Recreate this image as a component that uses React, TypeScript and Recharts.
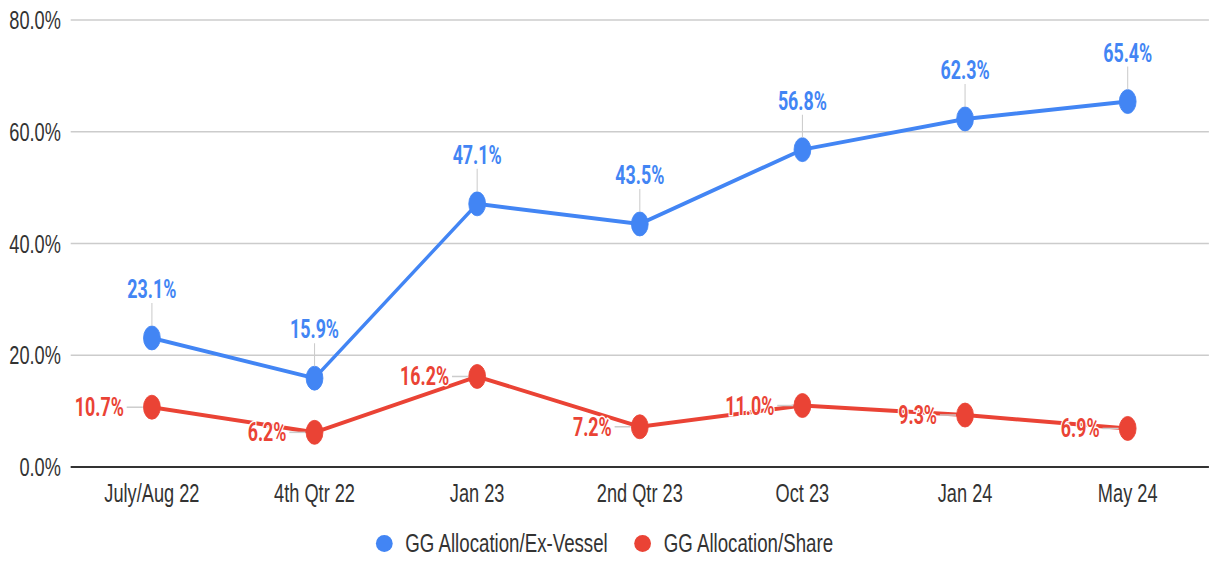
import { LineChart, Line, XAxis, YAxis, CartesianGrid, Legend, LabelList } from 'recharts'

const categories = ['July/Aug 22', '4th Qtr 22', 'Jan 23', '2nd Qtr 23', 'Oct 23', 'Jan 24', 'May 24']
const exVessel = [23.1, 15.9, 47.1, 43.5, 56.8, 62.3, 65.4]
const share = [10.7, 6.2, 16.2, 7.2, 11.0, 9.3, 6.9]
const yTicks = [0, 20, 40, 60, 80]

const BLUE = '#4285F4'
const RED = '#EA4335'
const LABEL_FONT = 'Roboto, "Noto Sans", sans-serif'
const AXIS_FONT = '"Liberation Sans", Arial, sans-serif'

// the reference is horizontally squeezed, so draw wide and squash
const SQUISH = 0.7
const W = 1741
const H = 561

const data = categories.map((name, i) => ({
  name,
  exVessel: exVessel[i],
  share: share[i],
}))

const fmt = (v: number) => `${v.toFixed(1)}%`

function BlueLeader(props: any) {
  const { x, y } = props
  return <line x1={x} x2={x} y1={y - 35} y2={y - 12} stroke="#cccccc" strokeWidth={1.5} />
}

function RedLeader(props: any) {
  const { x, y } = props
  return <line x1={x - 36} x2={x - 13} y1={y} y2={y} stroke="#cccccc" strokeWidth={1.5} />
}

function BlueLabel(props: any) {
  const { x, y, value } = props
  return (
    <text
      x={x}
      y={y - 40}
      textAnchor="middle"
      fill={BLUE}
      fontFamily={LABEL_FONT}
      fontSize={25.5}
      fontWeight="bold"
      stroke="#fff"
      strokeWidth={3}
      paintOrder="stroke"
    >
      {fmt(value)}
    </text>
  )
}

function RedLabel(props: any) {
  const { x, y, value } = props
  return (
    <text
      x={x - 40}
      y={y + 9}
      textAnchor="end"
      fill={RED}
      fontFamily={LABEL_FONT}
      fontSize={25.5}
      fontWeight="bold"
      stroke="#fff"
      strokeWidth={3}
      paintOrder="stroke"
    >
      {fmt(value)}
    </text>
  )
}

function LegendContent(props: any) {
  const items = (props.payload || []).filter((p: any) => p.type !== 'none')
  return (
    <div
      style={{
        height: 36,
        display: 'flex',
        alignItems: 'center',
        justifyContent: 'center',
        fontFamily: AXIS_FONT,
        fontSize: 26.7,
        color: '#333',
      }}
    >
      {items.map((p: any, i: number) => (
        <div key={i} style={{ display: 'flex', alignItems: 'center', marginLeft: i ? 38 : 0 }}>
          <span
            style={{
              display: 'inline-block',
              width: 24,
              height: 17,
              borderRadius: '50%',
              background: p.color,
              marginRight: 18,
            }}
          />
          <span>{p.value}</span>
        </div>
      ))}
    </div>
  )
}

export default function App() {
  return (
    <div style={{ position: 'absolute', left: 0, top: 0, width: 1219, height: H, overflow: 'hidden', background: '#fff' }}>
      <div style={{ width: W, height: H, transform: `scaleX(${SQUISH})`, transformOrigin: '0 0' }}>
        <LineChart width={W} height={H} data={data} margin={{ top: 20, right: 14, left: 0, bottom: 0 }}>
          <CartesianGrid vertical={false} stroke="#cccccc" strokeWidth={1.5} />
          <XAxis
            dataKey="name"
            height={58}
            padding={{ left: 116, right: 116 }}
            tickLine={false}
            axisLine={{ stroke: '#333', strokeWidth: 2 }}
            tickSize={6}
            tickMargin={11}
            tick={{ fill: '#333', fontSize: 26, fontFamily: AXIS_FONT }}
          />
          <YAxis
            width={101}
            domain={[0, 80]}
            ticks={yTicks}
            tickFormatter={fmt}
            axisLine={false}
            tickLine={false}
            tickSize={6}
            tickMargin={8}
            tick={{ fill: '#333', fontSize: 26, fontFamily: AXIS_FONT }}
          />
          <Legend verticalAlign="bottom" height={36} content={<LegendContent />} />
          <Line
            dataKey="exVessel"
            stroke="none"
            dot={false}
            legendType="none"
            isAnimationActive={false}
          >
            <LabelList dataKey="exVessel" content={<BlueLeader />} />
          </Line>
          <Line
            dataKey="share"
            stroke="none"
            dot={false}
            legendType="none"
            isAnimationActive={false}
          >
            <LabelList dataKey="share" content={<RedLeader />} />
          </Line>
          <Line
            name="GG Allocation/Ex-Vessel"
            dataKey="exVessel"
            stroke={BLUE}
            strokeWidth={4}
            dot={{ r: 12, fill: BLUE, stroke: BLUE, strokeWidth: 1 }}
            activeDot={false}
            isAnimationActive={false}
          >
            <LabelList dataKey="exVessel" content={<BlueLabel />} />
          </Line>
          <Line
            name="GG Allocation/Share"
            dataKey="share"
            stroke={RED}
            strokeWidth={4}
            dot={{ r: 12, fill: RED, stroke: RED, strokeWidth: 1 }}
            activeDot={false}
            isAnimationActive={false}
          >
            <LabelList dataKey="share" content={<RedLabel />} />
          </Line>
        </LineChart>
      </div>
    </div>
  )
}
